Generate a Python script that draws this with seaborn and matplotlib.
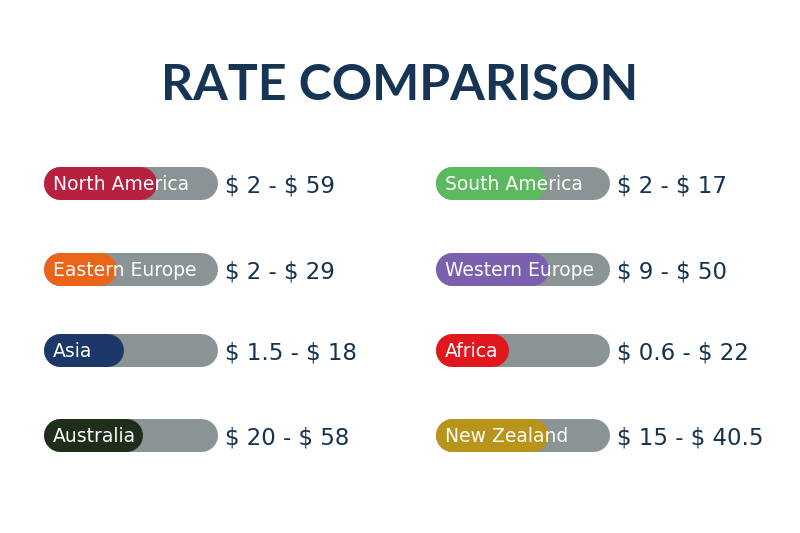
import matplotlib
matplotlib.use("Agg")
import matplotlib.pyplot as plt
import seaborn as sns
import pandas as pd

# data
regions = ["North America", "Eastern Europe", "Asia", "Australia",
           "South America", "Western Europe", "Africa", "New Zealand"]
rate_text = ["$ 2 - $ 59", "$ 2 - $ 29", "$ 1.5 - $ 18", "$ 20 - $ 58",
             "$ 2 - $ 17", "$ 9 - $ 50", "$ 0.6 - $ 22", "$ 15 - $ 40.5"]
fill_share = [0.65, 0.42, 0.46, 0.57, 0.64, 0.65, 0.42, 0.65]
colors = ["#B7203F", "#EA6419", "#1B3868", "#1F2D1B",
          "#5BB95E", "#7A60AE", "#E1171E", "#B8941A"]

# layout (pixels, figure is 800x533)
col_x = [43, 435]
row_y = [183, 269, 350, 435]
pill_w = 174
pill_h = 33
track_color = "#8A9495"
navy = "#15334F"

sns.set_theme(style="white")
plt.rcParams["font.family"] = ["DejaVu Sans"]
plt.rcParams["text.parse_math"] = False

fig = plt.figure(figsize=(8, 5.33), dpi=100)
ax = fig.add_axes([0, 0, 1, 1])

lw_pt = pill_h * 72 / 100
r = pill_h / 2

rows = []
for i, name in enumerate(regions):
    x0 = col_x[i // 4]
    y = row_y[i % 4]
    rows.append(dict(region=name, kind="track", x=x0 + r, y=y))
    rows.append(dict(region=name, kind="track", x=x0 + pill_w - r, y=y))
    rows.append(dict(region=name, kind="fill", x=x0 + r, y=y))
    rows.append(dict(region=name, kind="fill", x=x0 + fill_share[i] * pill_w - r, y=y))
df = pd.DataFrame(rows)

# grey tracks, then coloured fills on top
sns.lineplot(data=df[df.kind == "track"], x="x", y="y", units="region",
             estimator=None, color=track_color, lw=lw_pt,
             solid_capstyle="round", ax=ax, legend=False)
sns.lineplot(data=df[df.kind == "fill"], x="x", y="y", hue="region",
             units="region", estimator=None,
             palette=dict(zip(regions, colors)), lw=lw_pt,
             solid_capstyle="round", ax=ax, legend=False)
ax.set_xlim(0, 800)
ax.set_ylim(533, 0)
ax.axis("off")

for i, name in enumerate(regions):
    x0 = col_x[i // 4]
    y = row_y[i % 4]
    ax.text(x0 + 10, y + 7, name, color="white", fontsize=13.5,
            va="baseline", ha="left")
    ax.text(x0 + pill_w + 8, y + 9.5, rate_text[i], color=navy, fontsize=16.5,
            va="baseline", ha="left")

ax.text(400, 86, "RATE COMPARISON", color="#163555", fontsize=36,
        fontweight="bold", family=["Lato", "DejaVu Sans"],
        ha="center", va="center")

fig.savefig("out.png", dpi=100, facecolor="white")
